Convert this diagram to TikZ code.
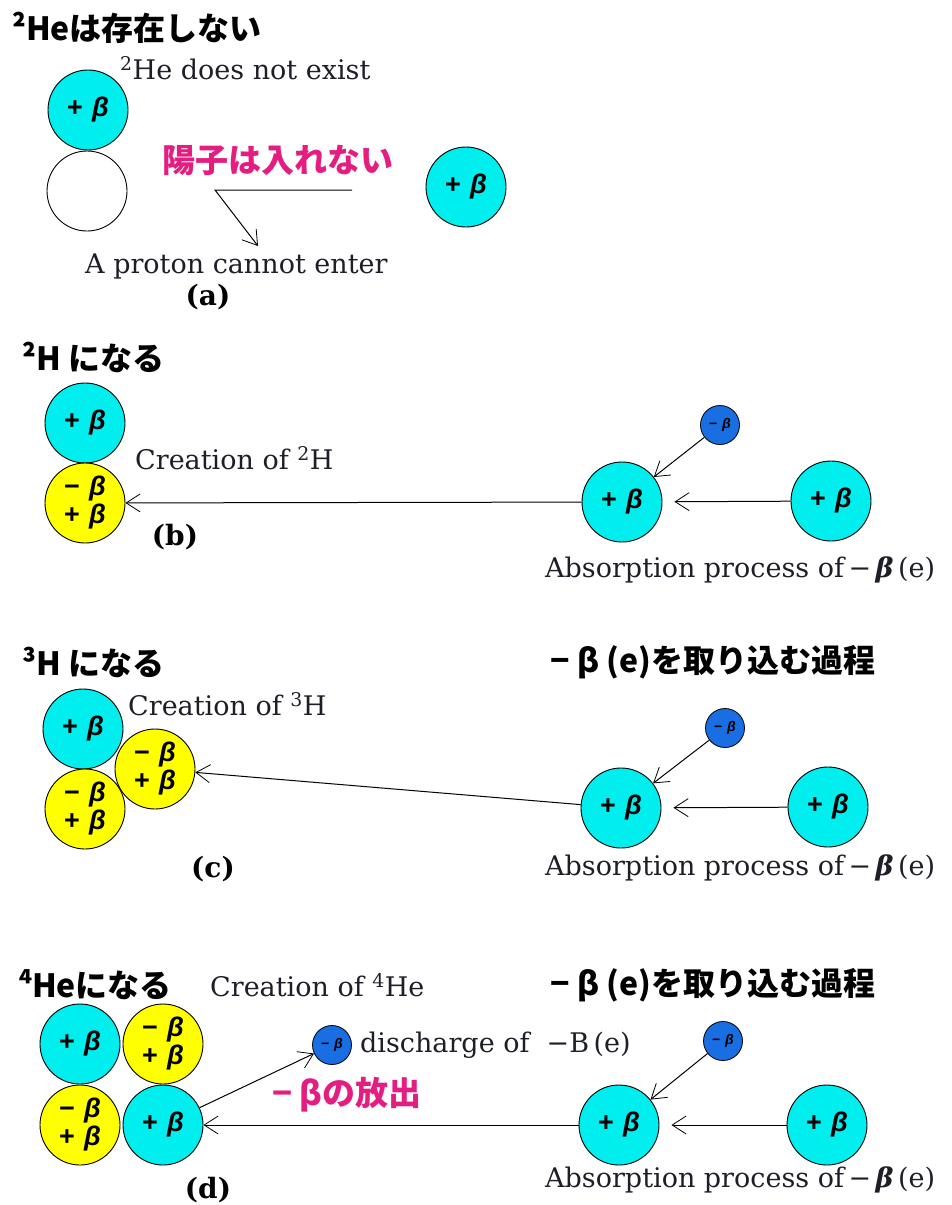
\documentclass[tikz,border=0pt]{standalone}
\usepackage{fontspec}
\newfontfamily\cjk{Noto Sans CJK JP}
\newfontfamily\lab{Liberation Sans}
\newfontfamily\serif{DejaVu Serif}
\usetikzlibrary{arrows.meta}
\definecolor{pcyan}{RGB}{0,238,238}
\definecolor{nyellow}{RGB}{255,255,0}
\definecolor{eblue}{RGB}{25,110,225}
\definecolor{pinktext}{RGB}{228,30,128}
\definecolor{ink}{RGB}{30,30,40}
\newcommand\plusb{+\,\,\textit{β}}
\newcommand\minusb{−\,\,\textit{β}}
\newcommand\betae{\,−\,{\bfseries\itshape β}\,(e)}
\begin{document}
\begin{tikzpicture}[x=1pt,y=-1pt,
  ball/.style={circle,draw=black,line width=0.9pt,minimum size=80pt,inner sep=0pt,
    font=\lab\bfseries\fontsize{27}{28}\selectfont,align=center},
  proton/.style={ball,fill=pcyan},
  neutron/.style={ball,fill=nyellow},
  hole/.style={ball,fill=white},
  electron/.style={circle,draw=black,line width=0.8pt,fill=eblue,minimum size=39pt,
    inner sep=0pt,font=\lab\bfseries\fontsize{14}{16}\selectfont},
  jtitle/.style={font=\cjk\bfseries\fontsize{32}{36}\selectfont,anchor=west,inner sep=0pt},
  jnote/.style={jtitle,font=\cjk\bfseries\fontsize{33}{36}\selectfont,text=pinktext},
  etext/.style={font=\serif\fontsize{27}{30}\selectfont,text=ink,anchor=west,inner sep=0pt},
  tag/.style={font=\serif\bfseries\fontsize{28}{30}\selectfont,inner sep=0pt},
  flow/.style={line width=1pt,-{Straight Barb[length=14pt,width=18pt,line width=0.8pt]}},
]
\useasboundingbox (0,0) rectangle (952,1205);

% (a) two protons cannot bind
\node[jtitle] (ta) at (12,28) {²Heは存在しない};
\node[etext] (na) at (120,68) {\textsuperscript{2}He does not exist};
\node[proton] (pa) at (88,110) {\plusb};
\node[hole] (ea) at (87,191) {};
\node[jnote] (ja) at (162,160) {陽子は入れない};
\coordinate (a1) at (352,190);
\coordinate (a2) at (215,190);
\coordinate (a3) at (258,246);
\draw[flow] (a1) -- (a2) -- (a3);
\node[etext] (ca) at (85,266) {A proton cannot enter};
\node[tag] (la) at (208,297) {(a)};
\node[proton] (qa) at (466,187) {\plusb};

% (b) deuterium
\node[jtitle] (tb) at (22,357) {²H になる};
\node[proton] (pb) at (85,423) {\plusb};
\node[neutron] (nb) at (85,503) {\minusb\\\plusb};
\node[etext] (cb) at (135,458) {Creation of \textsuperscript{2}H};
\node[proton] (xb) at (622,502) {\plusb};
\node[proton] (yb) at (831,501) {\plusb};
\node[electron] (eb) at (720,425) {\minusb};
\draw[flow] (xb) -- (nb);
\draw[flow,shorten >=12pt] (yb) -- (xb);
\draw[flow] (eb) -- (xb);
\node[etext] (ab) at (545,570) {Absorption process of\betae};
\node[tag] (lb) at (175,537) {(b)};

% (c) tritium
\node[jtitle] (tc) at (22,662) {³H になる};
\node[jtitle] (rc) at (550,662) {− β (e)を取り込む過程};
\node[proton] (pc) at (83,729) {\plusb};
\node[neutron] (nc1) at (85,809) {\minusb\\\plusb};
\node[neutron] (nc2) at (155,769) {\minusb\\\plusb};
\node[etext] (cc) at (128,704) {Creation of \textsuperscript{3}H};
\node[proton] (xc) at (621,808) {\plusb};
\node[proton] (yc) at (828,807) {\plusb};
\node[electron] (ec) at (725,728) {\minusb};
\draw[flow] (xc) -- (nc2);
\draw[flow,shorten >=12pt] (yc) -- (xc);
\draw[flow] (ec) -- (xc);
\node[etext] (ac) at (545,868) {Absorption process of\betae};
\node[tag] (lc) at (213,869) {(c)};

% (d) helium-4
\node[jtitle] (td) at (18,985) {⁴Heになる};
\node[etext] (cd) at (210,985) {Creation of \textsuperscript{4}He};
\node[jtitle] (rd) at (550,985) {− β (e)を取り込む過程};
\node[proton] (pd1) at (80,1044) {\plusb};
\node[neutron] (nd1) at (163,1044) {\minusb\\\plusb};
\node[neutron] (nd2) at (80,1125) {\minusb\\\plusb};
\node[proton] (pd2) at (163,1125) {\plusb};
\node[electron] (ed) at (332,1045) {\minusb};
\node[etext] (dd) at (360,1045) {discharge of \ −B\,(e)};
\node[jnote] (jd) at (272,1095) {− βの放出};
\draw[flow] (pd2) -- (ed);
\node[proton] (xd) at (619,1125) {\plusb};
\node[proton] (yd) at (827,1125) {\plusb};
\node[electron] (ed2) at (723,1041) {\minusb};
\draw[flow] (xd) -- (pd2);
\draw[flow,shorten >=12pt] (yd) -- (xd);
\draw[flow] (ed2) -- (xd);
\node[etext] (ad) at (545,1180) {Absorption process of\betae};
\node[tag] (ld) at (208,1190) {(d)};
\end{tikzpicture}
\end{document}
